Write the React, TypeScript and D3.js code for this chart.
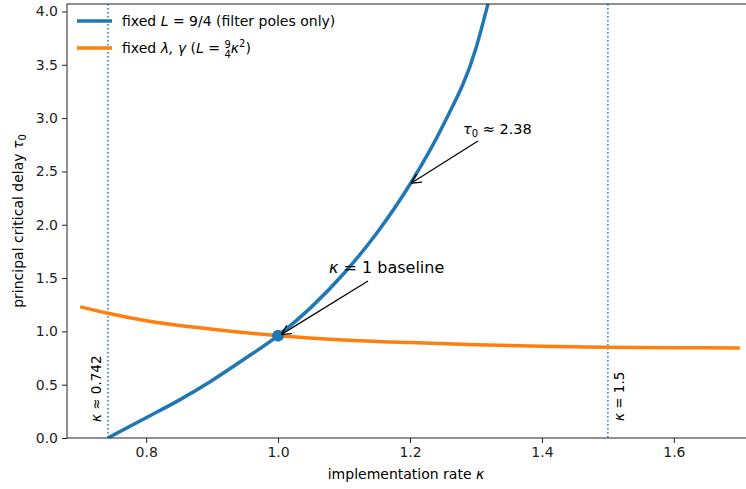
import React, { useEffect, useRef } from 'react';
import * as d3 from 'd3';

const blueKappa = [0.742, 0.8, 0.85, 0.9, 0.95, 1.0, 1.05, 1.1, 1.15, 1.2, 1.25, 1.3, 1.32, 1.33];
const blueTau = [0.0, 0.19, 0.355, 0.54, 0.745, 0.96, 1.225, 1.545, 1.925, 2.38, 2.93, 3.655, 4.115, 4.36];
const orangeKappa = [0.7, 0.742, 0.8, 0.9, 1.0, 1.1, 1.2, 1.3, 1.4, 1.5, 1.6, 1.7];
const orangeTau = [1.23, 1.17, 1.10, 1.02, 0.96, 0.92, 0.895, 0.875, 0.86, 0.852, 0.847, 0.845];
const xTicks = [0.8, 1.0, 1.2, 1.4, 1.6];
const yTicks = [0, 0.5, 1, 1.5, 2, 2.5, 3, 3.5, 4];
const markers = [0.742, 1.5];

const BLUE = '#1f77b4';
const ORANGE = '#ff7f0e';
const FONT = 'DejaVu Sans, sans-serif';

export default function App() {
  const ref = useRef<SVGSVGElement>(null);

  useEffect(() => {
    const svg = d3.select(ref.current);
    svg.selectAll('*').remove();
    const left = 67, top = 4, bottom = 438, right = 753;
    const x = d3.scaleLinear().domain([0.68, 1.72]).range([left, right]);
    const y = d3.scaleLinear().domain([0, 4.07]).range([bottom, top]);

    svg.append('defs').append('clipPath').attr('id', 'clip')
      .append('rect').attr('x', left).attr('y', top).attr('width', right - left).attr('height', bottom - top);
    svg.append('defs').append('marker')
      .attr('id', 'arr').attr('viewBox', '0 0 10 10').attr('refX', 10).attr('refY', 5)
      .attr('markerWidth', 10).attr('markerHeight', 10).attr('markerUnits', 'userSpaceOnUse')
      .attr('orient', 'auto')
      .append('path').attr('d', 'M0,0 L10,5 L0,10').attr('fill', 'none').attr('stroke', '#000').attr('stroke-width', 1.2);

    const plot = svg.append('g').attr('clip-path', 'url(#clip)');

    markers.forEach(k => {
      plot.append('line').attr('x1', x(k)).attr('x2', x(k)).attr('y1', top).attr('y2', bottom)
        .attr('stroke', BLUE).attr('stroke-width', 1.5).attr('stroke-dasharray', '1.5,2.5');
    });

    const ln = d3.line<[number, number]>().x(d => x(d[0])).y(d => y(d[1])).curve(d3.curveMonotoneX);
    plot.append('path').attr('d', ln(orangeKappa.map((k, i) => [k, orangeTau[i]]))!)
      .attr('fill', 'none').attr('stroke', ORANGE).attr('stroke-width', 3.5);
    plot.append('path').attr('d', ln(blueKappa.map((k, i) => [k, blueTau[i]]))!)
      .attr('fill', 'none').attr('stroke', BLUE).attr('stroke-width', 3.5);
    plot.append('circle').attr('cx', x(1)).attr('cy', y(0.96)).attr('r', 6).attr('fill', BLUE);

    // vertical labels
    const v1 = svg.append('text').attr('transform', `translate(${x(0.742) - 7},${bottom - 16}) rotate(-90)`)
      .attr('font-family', FONT).attr('font-size', 13.5);
    v1.append('tspan').attr('font-style', 'italic').text('κ');
    v1.append('tspan').text(' ≈ 0.742');
    const v2 = svg.append('text').attr('transform', `translate(${x(1.5) + 16},${bottom - 17}) rotate(-90)`)
      .attr('font-family', FONT).attr('font-size', 13.5);
    v2.append('tspan').attr('font-style', 'italic').text('κ');
    v2.append('tspan').text(' = 1.5');

    // annotations
    const ann1 = svg.append('text').attr('x', 463).attr('y', 134).attr('font-family', FONT).attr('font-size', 14.5);
    ann1.append('tspan').attr('font-style', 'italic').text('τ');
    ann1.append('tspan').attr('font-size', 10).attr('dy', 3).text('0');
    ann1.append('tspan').attr('dy', -3).text(' ≈ 2.38');
    svg.append('line').attr('x1', 478).attr('y1', 141).attr('x2', x(1.2) + 1).attr('y2', y(2.38) - 1)
      .attr('stroke', '#000').attr('stroke-width', 1.2).attr('marker-end', 'url(#arr)');
    const ann2 = svg.append('text').attr('x', 329).attr('y', 273).attr('font-family', FONT).attr('font-size', 16);
    ann2.append('tspan').attr('font-style', 'italic').text('κ');
    ann2.append('tspan').text(' = 1 baseline');
    svg.append('line').attr('x1', 368).attr('y1', 281).attr('x2', x(1) + 3).attr('y2', y(0.96) - 1)
      .attr('stroke', '#000').attr('stroke-width', 1.2).attr('marker-end', 'url(#arr)');

    // axes
    const ax = svg.append('g').attr('transform', `translate(0,${bottom})`)
      .call(d3.axisBottom(x).tickValues(xTicks).tickFormat(d3.format('.1f')).tickSize(5).tickPadding(4));
    const ay = svg.append('g').attr('transform', `translate(${left},0)`)
      .call(d3.axisLeft(y).tickValues(yTicks).tickFormat(d3.format('.1f')).tickSize(5).tickPadding(4));
    [ax, ay].forEach(a => {
      a.select('.domain').remove();
      a.selectAll('text').attr('font-family', FONT).attr('font-size', 14).attr('fill', '#222');
      a.selectAll('line').attr('stroke', '#222').attr('stroke-width', 1);
    });
    svg.append('rect').attr('x', left).attr('y', top).attr('width', right - left).attr('height', bottom - top)
      .attr('fill', 'none').attr('stroke', '#222').attr('stroke-width', 1);

    const xl = svg.append('text').attr('x', 406).attr('y', 479).attr('text-anchor', 'middle')
      .attr('font-family', FONT).attr('font-size', 14);
    xl.append('tspan').text('implementation rate ');
    xl.append('tspan').attr('font-style', 'italic').text('κ');
    const yl = svg.append('text').attr('transform', `translate(23,${(top + bottom) / 2}) rotate(-90)`)
      .attr('text-anchor', 'middle').attr('font-family', FONT).attr('font-size', 14);
    yl.append('tspan').text('principal critical delay ');
    yl.append('tspan').attr('font-style', 'italic').text('τ');
    yl.append('tspan').attr('font-size', 10).attr('dy', 3).text('0');

    // legend
    const lg = svg.append('g');
    const colors = [BLUE, ORANGE];
    colors.forEach((c, i) => {
      const yy = 21 + i * 27;
      lg.append('line').attr('x1', 77).attr('x2', 112).attr('y1', yy).attr('y2', yy)
        .attr('stroke', c).attr('stroke-width', 3.5);
    });
    const t1 = lg.append('text').attr('x', 122).attr('y', 26).attr('font-family', FONT).attr('font-size', 14);
    t1.append('tspan').text('fixed ');
    t1.append('tspan').attr('font-style', 'italic').text('L');
    t1.append('tspan').text(' = 9/4 (filter poles only)');
    const t2 = lg.append('text').attr('x', 122).attr('y', 53).attr('font-family', FONT).attr('font-size', 14);
    t2.append('tspan').text('fixed ');
    t2.append('tspan').attr('font-style', 'italic').text('λ, γ');
    t2.append('tspan').text(' (');
    t2.append('tspan').attr('font-style', 'italic').text('L');
    t2.append('tspan').text(' = ');
    t2.append('tspan').attr('font-size', 10).attr('dy', -5).text('9');
    t2.append('tspan').attr('font-size', 10).attr('dx', -6.4).attr('dy', 10).text('4');
    t2.append('tspan').attr('font-style', 'italic').attr('dy', -5).text('κ');
    t2.append('tspan').attr('font-size', 10).attr('dy', -6).text('2');
    t2.append('tspan').attr('dy', 6).text(')');
  }, []);

  return (
    <svg ref={ref} width={746} height={489} style={{ position: 'absolute', left: 0, top: 0, background: '#fff' }} />
  );
}
